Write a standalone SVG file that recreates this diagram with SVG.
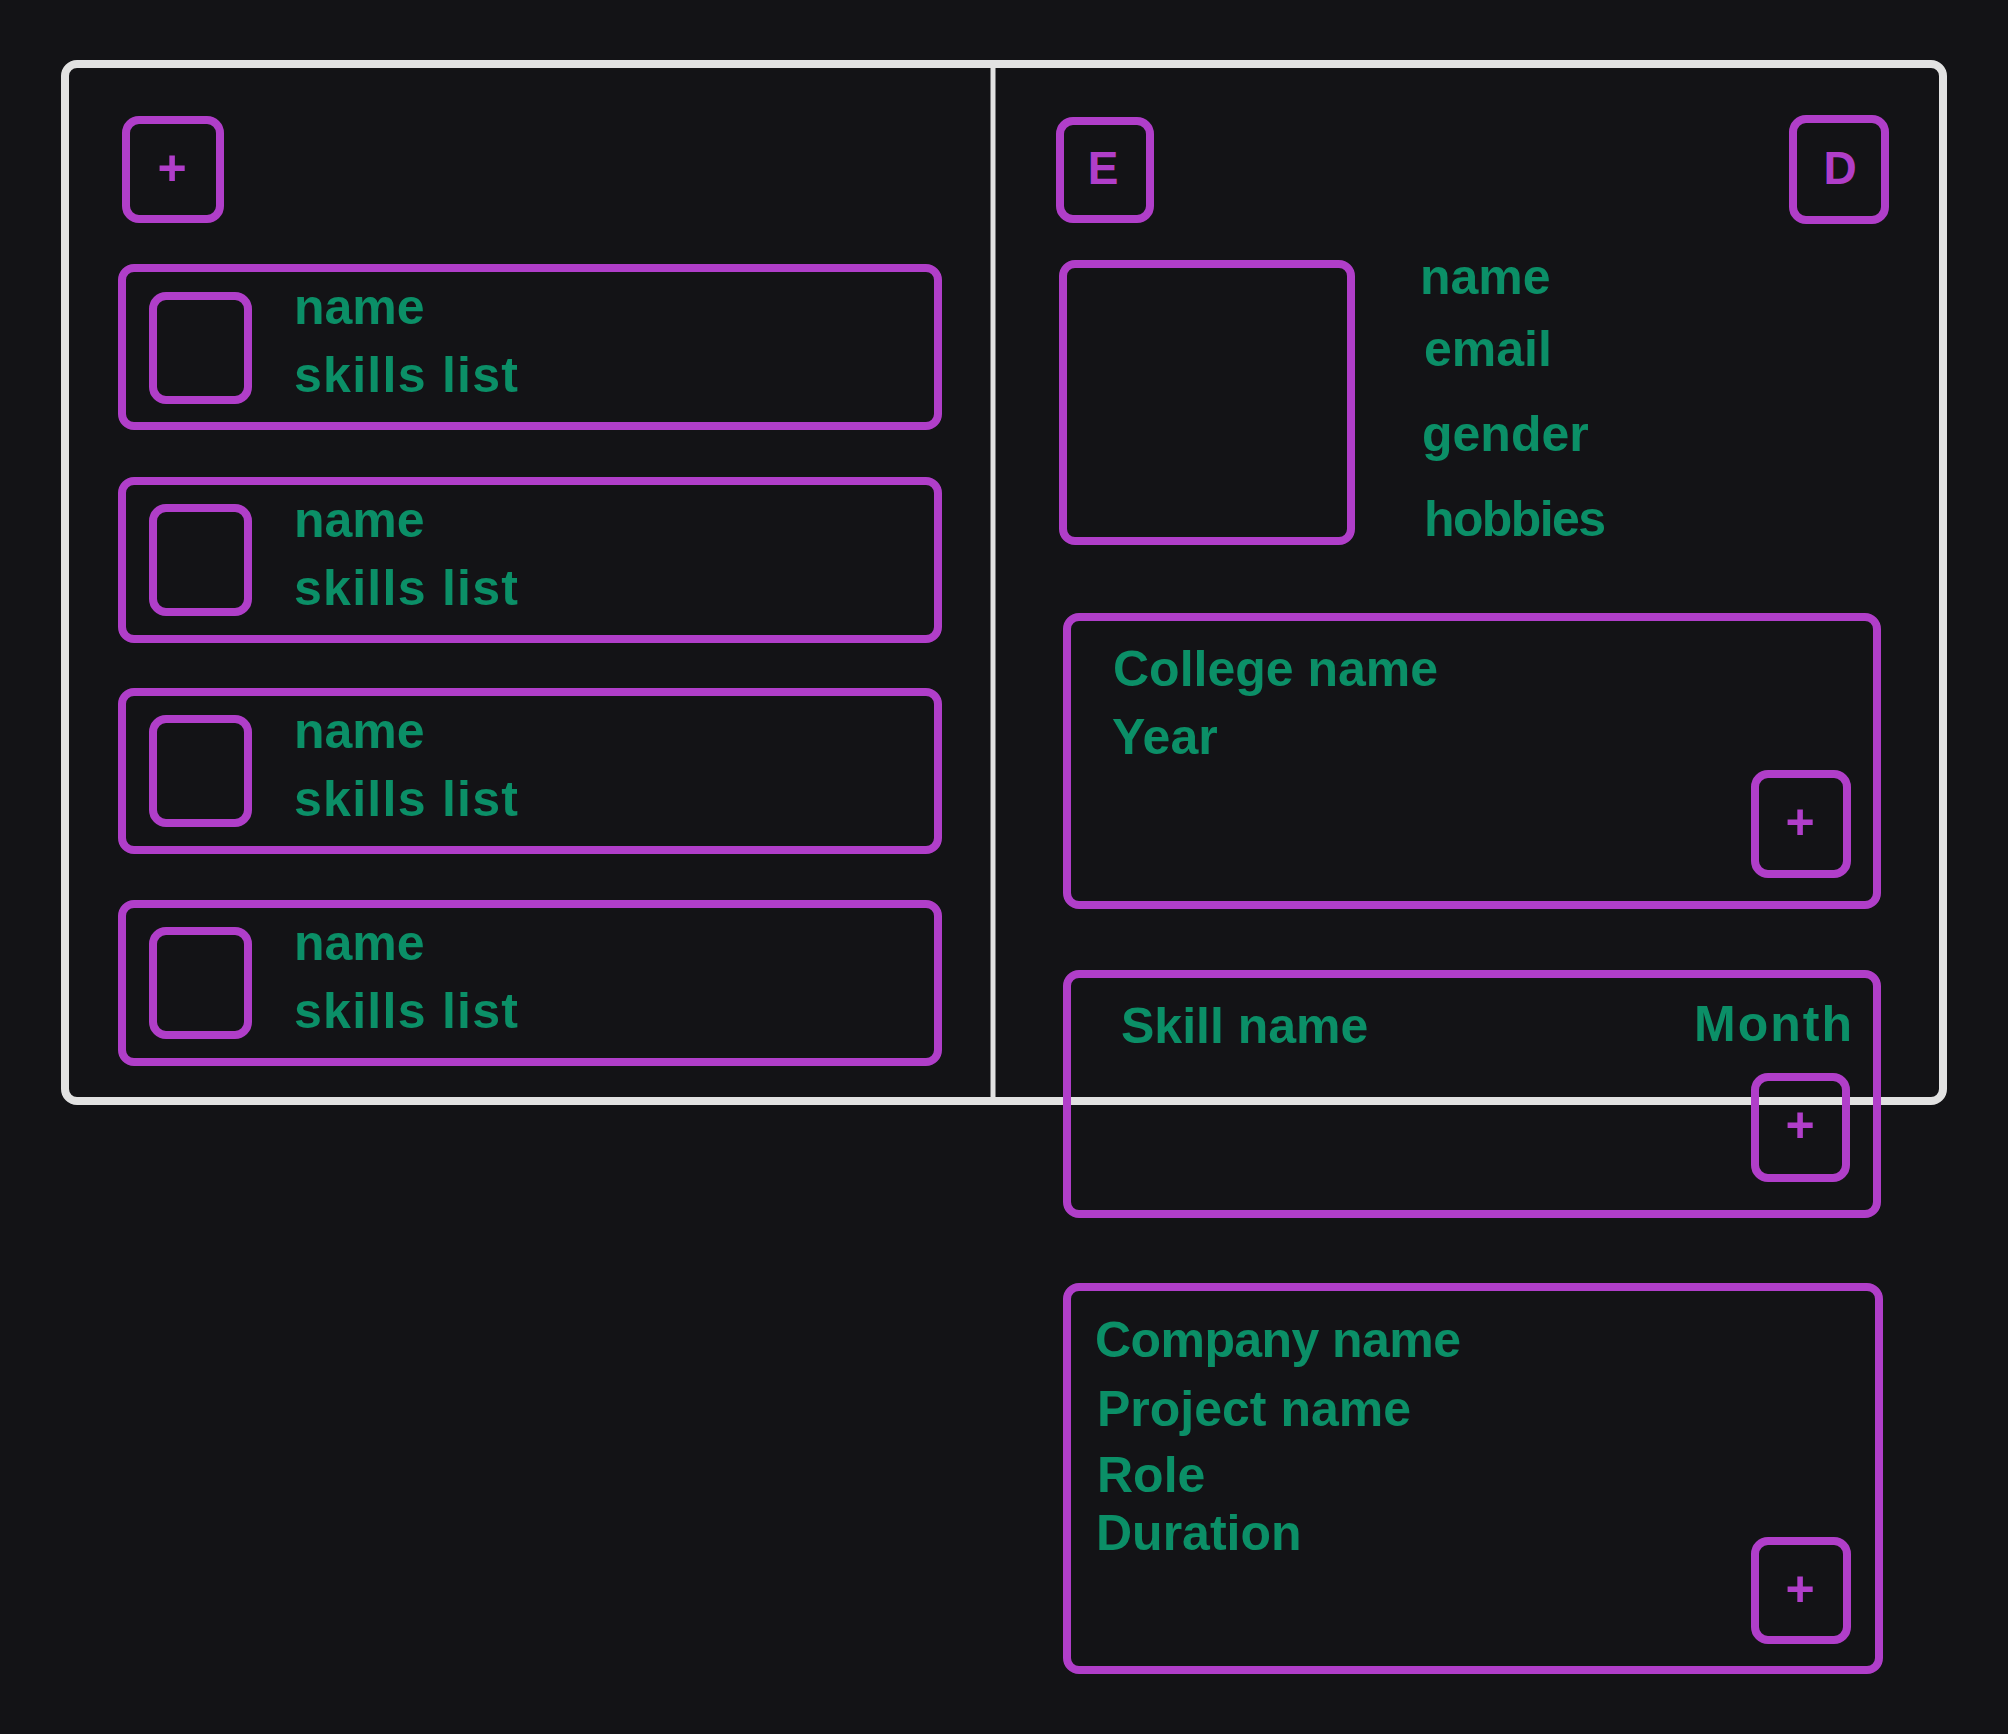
<svg xmlns="http://www.w3.org/2000/svg" width="2008" height="1734" viewBox="0 0 2008 1734">
  <style>
    .frame { fill: none; stroke: #e2e2e2; stroke-width: 8; stroke-linejoin: round; }
    .divider { fill: none; stroke: #e2e2e2; stroke-width: 5; }
    .box { fill: none; stroke: #b03ec9; stroke-width: 8; stroke-linejoin: round; }
    .lbl { fill: #0b8f67; font-family: "Liberation Sans", Arial, sans-serif; font-weight: 700; font-size: 50px; }
    .btn { fill: #b03ec9; font-family: "Liberation Sans", Arial, sans-serif; font-weight: 700; text-anchor: middle; }
  </style>
  <rect width="2008" height="1734" fill="#131316"/>

  <g id="frame">
    <rect class="frame" x="65" y="64" width="1878" height="1037" rx="12"/>
  </g>
  <g id="connectors">
    <line class="divider" x1="993" y1="64" x2="993" y2="1101"/>
  </g>

  <!-- Left panel -->
  <g id="add-button">
    <rect class="box" x="126" y="120" width="94" height="99" rx="13"/>
    <text class="btn" x="172" y="185" font-size="50">+</text>
  </g>

  <g id="card-1">
    <rect class="box" x="122" y="268" width="816" height="158" rx="12"/>
    <rect class="box" x="153" y="296" width="95" height="104" rx="13"/>
    <text class="lbl" x="294" y="324">name</text>
    <text class="lbl" x="294" y="392" textLength="224">skills list</text>
  </g>
  <g id="card-2">
    <rect class="box" x="122" y="481" width="816" height="158" rx="12"/>
    <rect class="box" x="153" y="508" width="95" height="104" rx="13"/>
    <text class="lbl" x="294" y="537">name</text>
    <text class="lbl" x="294" y="605" textLength="224">skills list</text>
  </g>
  <g id="card-3">
    <rect class="box" x="122" y="692" width="816" height="158" rx="12"/>
    <rect class="box" x="153" y="719" width="95" height="104" rx="13"/>
    <text class="lbl" x="294" y="748">name</text>
    <text class="lbl" x="294" y="816" textLength="224">skills list</text>
  </g>
  <g id="card-4">
    <rect class="box" x="122" y="904" width="816" height="158" rx="12"/>
    <rect class="box" x="153" y="931" width="95" height="104" rx="13"/>
    <text class="lbl" x="294" y="960">name</text>
    <text class="lbl" x="294" y="1028" textLength="224">skills list</text>
  </g>

  <!-- Right panel -->
  <g id="edit-button">
    <rect class="box" x="1060" y="121" width="90" height="98" rx="13"/>
    <text class="btn" x="1103" y="184" font-size="46">E</text>
  </g>
  <g id="delete-button">
    <rect class="box" x="1793" y="119" width="92" height="101" rx="13"/>
    <text class="btn" x="1840" y="184" font-size="46">D</text>
  </g>

  <g id="profile">
    <rect class="box" x="1063" y="264" width="288" height="277" rx="12"/>
    <text class="lbl" x="1420" y="294">name</text>
    <text class="lbl" x="1424" y="366">email</text>
    <text class="lbl" x="1422" y="451">gender</text>
    <text class="lbl" x="1424" y="536" textLength="182">hobbies</text>
  </g>

  <g id="education">
    <rect class="box" x="1067" y="617" width="810" height="288" rx="12"/>
    <text class="lbl" x="1113" y="686">College name</text>
    <text class="lbl" x="1112" y="754">Year</text>
    <rect class="box" x="1755" y="774" width="92" height="100" rx="13"/>
    <text class="btn" x="1800" y="839" font-size="50">+</text>
  </g>

  <g id="skills">
    <rect class="box" x="1067" y="974" width="810" height="240" rx="12"/>
    <text class="lbl" x="1121" y="1043">Skill name</text>
    <text class="lbl" x="1694" y="1041" textLength="158">Month</text>
    <rect class="box" x="1755" y="1077" width="91" height="101" rx="13"/>
    <text class="btn" x="1800" y="1142" font-size="50">+</text>
  </g>

  <g id="experience">
    <rect class="box" x="1067" y="1287" width="812" height="383" rx="12"/>
    <text class="lbl" x="1095" y="1357" textLength="366">Company name</text>
    <text class="lbl" x="1097" y="1426">Project name</text>
    <text class="lbl" x="1097" y="1492">Role</text>
    <text class="lbl" x="1096" y="1550">Duration</text>
    <rect class="box" x="1755" y="1541" width="92" height="99" rx="13"/>
    <text class="btn" x="1800" y="1606" font-size="50">+</text>
  </g>
</svg>
